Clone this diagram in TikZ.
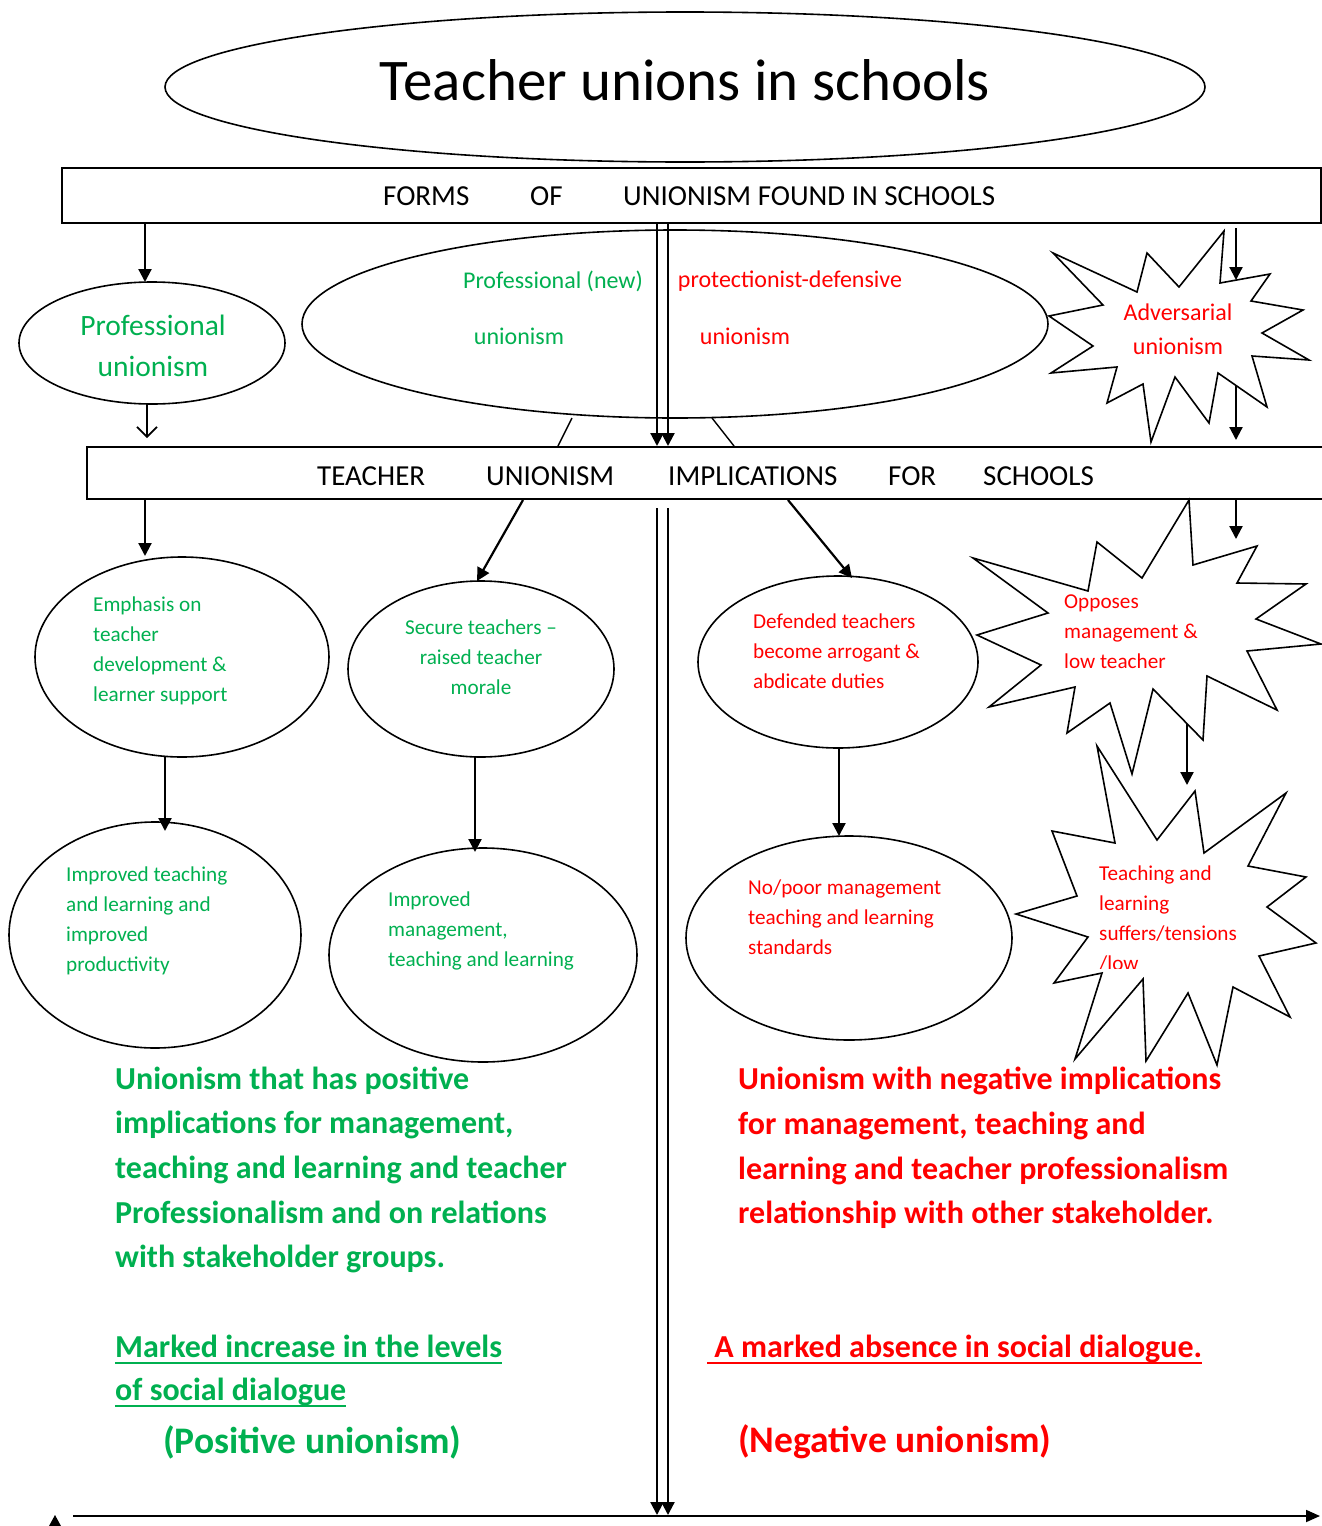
\documentclass[tikz,border=0pt]{standalone}
\usepackage{fontspec}
\setmainfont{Carlito}
\usetikzlibrary{shapes.geometric,arrows.meta}
\definecolor{ugreen}{RGB}{0,176,80}
\definecolor{ured}{RGB}{255,0,0}
\begin{document}
\begin{tikzpicture}[x=1pt,y=-1pt,
  oval/.style={draw,ellipse,line width=1.6pt,inner sep=0pt,fill=white},
  hbox/.style={draw,line width=1.6pt,inner sep=0pt,anchor=north west},
  burst/.style={draw,line width=1.6pt,fill=white,line join=miter},
  arr/.style={line width=2.2pt,-{Triangle[length=13pt,width=13pt]}},
  openarr/.style={line width=1.6pt,-{Straight Barb[length=10pt,width=20pt]}},
  plain/.style={line width=1.4pt},
  uline/.style={line width=2.3pt},
  head/.style={font=\fontsize{29}{34}\selectfont,inner sep=0pt,anchor=west},
  small/.style={font=\fontsize{21.2}{30}\selectfont,inner sep=0pt},
  mid/.style={font=\fontsize{24}{34}\selectfont,inner sep=0pt},
  big/.style={font=\fontsize{32}{44.6}\selectfont\bfseries,inner sep=0pt,anchor=west,align=left},
  ubig/.style={font=\fontsize{32}{44.6}\selectfont\bfseries,inner sep=0pt,anchor=base west},
  paren/.style={font=\fontsize{37.5}{44}\selectfont\bfseries,inner sep=0pt,anchor=west},
  gtxt/.style={text=ugreen},
  rtxt/.style={text=ured}
]
\useasboundingbox (0,0) rectangle (1322,1526);

% title
\node[oval,minimum width=1040pt,minimum height=150pt] (title) at (685,87) {};
\node[inner sep=0pt,font=\fontsize{59}{66}\selectfont] (titletxt) at (685,80) {Teacher unions in schools};

% forms box
\node[hbox,minimum width=1259pt,minimum height=55pt] (forms) at (61,167) {};
\node[head] (f1) at (383,196) {FORMS};
\node[head] (f2) at (530,196) {OF};
\node[head] (f3) at (623,196) {UNIONISM FOUND IN SCHOOLS};

% professional unionism
\node[oval,minimum width=266pt,minimum height=122pt] (prof) at (152,343) {};
\node[gtxt,inner sep=0pt,align=center,font=\fontsize{29.5}{41}\selectfont] (proftxt) at (153,346) {Professional\\unionism};

% big ellipse
\node[oval,minimum width=746pt,minimum height=188pt] (bigov) at (675,324) {};
\node[mid,gtxt] (b1) at (553,281) {Professional (new)};
\node[mid,rtxt] (b2) at (790,281) {protectionist-defensive};
\node[mid,gtxt] (b3) at (519,336) {unionism};
\node[mid,rtxt] (b4) at (745,336) {unionism};

% adversarial burst
\draw[burst] (1053,253) -- (1137,292) -- (1147,253) -- (1179,287) -- (1224,231) -- (1220,283) -- (1270,274) -- (1251,301) -- (1303,310) -- (1262,333) -- (1309,360) -- (1252,356) -- (1267,407) -- (1218,373) -- (1209,423) -- (1175,377) -- (1151,442) -- (1143,384) -- (1107,403) -- (1117,367) -- (1051,373) -- (1093,346) -- (1049,316) -- (1103,305) -- cycle;
\node[mid,rtxt,align=center] (adv) at (1178,329) {Adversarial\\unionism};

% implications box
\node[hbox,minimum width=1260pt,minimum height=52pt] (impl) at (86,446) {};
\node[head] (i1) at (317,476) {TEACHER};
\node[head] (i2) at (486,476) {UNIONISM};
\node[head] (i3) at (668,476) {IMPLICATIONS};
\node[head] (i4) at (888,476) {FOR};
\node[head] (i5) at (983,476) {SCHOOLS};

% level 2 ellipses
\node[oval,minimum width=294pt,minimum height=200pt] (emph) at (182,657) {};
\node[small,gtxt,anchor=west,align=left] (emphtxt) at (93,651) {Emphasis on\\teacher\\development \&\\learner support};
\node[oval,minimum width=266pt,minimum height=176pt] (secure) at (481,669) {};
\node[small,gtxt,align=center] (securetxt) at (481,657) {Secure teachers --\\raised teacher\\morale};
\node[oval,minimum width=280pt,minimum height=172pt] (defend) at (838,662) {};
\node[small,rtxt,anchor=west,align=left] (defendtxt) at (753,651) {Defended teachers\\become arrogant \&\\abdicate duties};

% opposes burst
\draw[burst] (973,558) -- (1088,591) -- (1097,542) -- (1142,578) -- (1189,500) -- (1193,565) -- (1257,546) -- (1237,583) -- (1306,584) -- (1256,619) -- (1321,644) -- (1247,651) -- (1277,710) -- (1207,676) -- (1203,740) -- (1153,689) -- (1132,774) -- (1110,703) -- (1067,733) -- (1075,687) -- (989,707) -- (1041,665) -- (977,635) -- (1048,613) -- cycle;
\node[small,rtxt,anchor=west,align=left] (opptxt) at (1064,632) {Opposes\\management \&\\low teacher};

% level 3 ellipses
\node[oval,minimum width=292pt,minimum height=226pt] (improved) at (155,935) {};
\node[small,gtxt,anchor=west,align=left] (improvedtxt) at (66,921) {Improved teaching\\and learning and\\improved\\productivity};
\node[oval,minimum width=308pt,minimum height=214pt] (mgmt) at (483,955) {};
\node[small,gtxt,anchor=west,align=left] (mgmttxt) at (388,931) {Improved\\management,\\teaching and learning};
\node[oval,minimum width=326pt,minimum height=204pt] (poor) at (849,938) {};
\node[small,rtxt,anchor=west,align=left] (poortxt) at (748,917) {No/poor management\\teaching and learning\\standards};

% teaching burst
\draw[burst] (1097,746) -- (1115,843) -- (1052,831) -- (1077,896) -- (1016,914) -- (1088,937) -- (1054,983) -- (1102,973) -- (1075,1059) -- (1143,979) -- (1146,1061) -- (1188,993) -- (1217,1065) -- (1233,987) -- (1290,1017) -- (1259,956) -- (1316,943) -- (1267,907) -- (1306,877) -- (1248,866) -- (1286,793) -- (1204,853) -- (1195,791) -- (1157,840) -- cycle;
\node[small,rtxt,anchor=west,align=left] (teachtxt) at (1099,904) {Teaching and\\learning\\suffers/tensions};
\begin{scope}
\clip (1090,945) rectangle (1260,968);
\node[small,rtxt,anchor=west] (lowtxt) at (1099,964) {/low};
\end{scope}

% connectors
\coordinate (a1s) at (145,222); \coordinate (a1e) at (145,282);
\draw[arr] (a1s) -- (a1e);
\coordinate (a2s) at (147,404); \coordinate (a2e) at (147,438);
\draw[openarr] (a2s) -- (a2e);
\coordinate (dl1s) at (657,222); \coordinate (dl1e) at (657,446);
\coordinate (dr1s) at (668,222); \coordinate (dr1e) at (668,446);
\draw[arr] (dl1s) -- (dl1e);
\draw[arr] (dr1s) -- (dr1e);
\coordinate (s1a) at (572,418); \coordinate (s1b) at (558,446);
\coordinate (s2a) at (712,418); \coordinate (s2b) at (734,446);
\draw[plain] (s1a) -- (s1b);
\draw[plain] (s2a) -- (s2b);
\coordinate (r1s) at (1236,228); \coordinate (r1e) at (1236,280);
\coordinate (r2s) at (1236,385); \coordinate (r2e) at (1236,440);
\coordinate (r3s) at (1236,498); \coordinate (r3e) at (1236,539);
\coordinate (r4s) at (1187,724); \coordinate (r4e) at (1187,785);
\draw[arr] (r1s) -- (r1e);
\draw[arr] (r2s) -- (r2e);
\draw[arr] (r3s) -- (r3e);
\draw[arr] (r4s) -- (r4e);
\coordinate (c1s) at (145,498); \coordinate (c1e) at (145,556);
\coordinate (c2s) at (523,500); \coordinate (c2e) at (477,581);
\coordinate (c3s) at (788,500); \coordinate (c3e) at (852,578);
\draw[arr] (c1s) -- (c1e);
\draw[arr] (c2s) -- (c2e);
\draw[arr] (c3s) -- (c3e);
\coordinate (d1s) at (165,757); \coordinate (d1e) at (165,831);
\coordinate (d2s) at (475,757); \coordinate (d2e) at (475,852);
\coordinate (d3s) at (839,747); \coordinate (d3e) at (839,836);
\draw[arr] (d1s) -- (d1e);
\draw[arr] (d2s) -- (d2e);
\draw[arr] (d3s) -- (d3e);
\coordinate (dl2s) at (657,508); \coordinate (dl2e) at (657,1515);
\coordinate (dr2s) at (668,508); \coordinate (dr2e) at (668,1515);
\draw[arr] (dl2s) -- (dl2e);
\draw[arr] (dr2s) -- (dr2e);
\coordinate (bl) at (73,1516); \coordinate (br) at (1320,1516);
\draw[line width=1.8pt,-{Triangle[length=14pt,width=12pt]}] (bl) -- (br);
\fill (49,1526) -- (55,1515) -- (61,1526) -- cycle;

% bottom texts
\node[big,gtxt] (postxt) at (115,1170) {Unionism that has positive\\implications for management,\\teaching and learning and teacher\\Professionalism and on relations\\with stakeholder groups.};
\node[big,rtxt] (negtxt) at (738,1148) {Unionism with negative implications\\for management, teaching and\\learning and teacher professionalism\\relationship with other stakeholder.};
\node[ubig,gtxt] (posdial1) at (115,1357) {Marked increase in the levels};
\node[ubig,gtxt] (posdial2) at (115,1400) {of social dialogue};
\node[ubig,rtxt] (negdial) at (707,1357) {\ A marked absence in social dialogue.};
\draw[uline,ugreen] ([yshift=-6pt]posdial1.base west) -- ([yshift=-6pt]posdial1.base east);
\draw[uline,ugreen] ([yshift=-6pt]posdial2.base west) -- ([yshift=-6pt]posdial2.base east);
\draw[uline,ured] ([yshift=-6pt]negdial.base west) -- ([yshift=-6pt]negdial.base east);
\node[paren,gtxt] (posu) at (163,1442) {(Positive unionism)};
\node[paren,rtxt] (negu) at (738,1442) {(Negative unionism)};
\end{tikzpicture}
\end{document}
